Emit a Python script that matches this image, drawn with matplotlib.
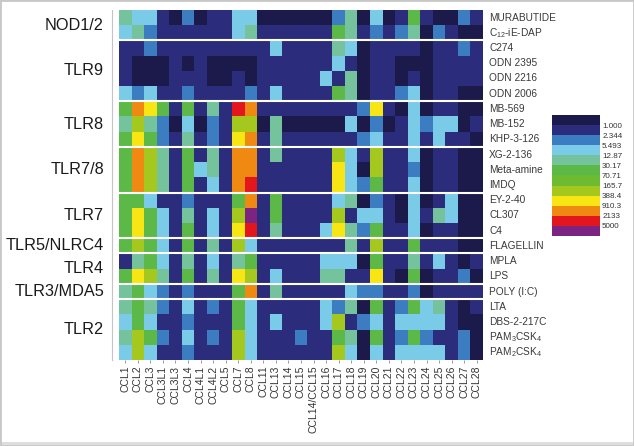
import numpy as np
import matplotlib
matplotlib.use("Agg")
import matplotlib.pyplot as plt
from matplotlib.colors import ListedColormap, BoundaryNorm
from matplotlib.lines import Line2D
from matplotlib.patches import Rectangle
import matplotlib.transforms as mtransforms

plt.rcParams['font.family'] = ['Liberation Sans', 'DejaVu Sans']

# ---------------- data ----------------
columns = ['CCL1', 'CCL2', 'CCL3', 'CCL3L1', 'CCL3L3', 'CCL4', 'CCL4L1', 'CCL4L2',
           'CCL5', 'CCL7', 'CCL8', 'CCL11', 'CCL13', 'CCL14', 'CCL15', 'CCL14/CCL15',
           'CCL16', 'CCL17', 'CCL18', 'CCL19', 'CCL20', 'CCL21', 'CCL22', 'CCL23',
           'CCL24', 'CCL25', 'CCL26', 'CCL27', 'CCL28']

groups = ['NOD1/2', 'TLR9', 'TLR8', 'TLR7/8', 'TLR7', 'TLR5/NLRC4', 'TLR4', 'TLR3/MDA5', 'TLR2']

ligands_nod = ['MURABUTIDE', r'C$_{\mathregular{12}}$-iE-DAP']
ligands_tlr9 = ['C274', 'ODN 2395', 'ODN 2216', 'ODN 2006']
ligands_tlr8 = ['MB-569', 'MB-152', 'KHP-3-126']
ligands_tlr78 = ['XG-2-136', 'Meta-amine', 'IMDQ']
ligands_tlr7 = ['EY-2-40', 'CL307', 'C4']
ligands_tlr5 = ['FLAGELLIN']
ligands_tlr4 = ['MPLA', 'LPS']
ligands_tlr3 = ['POLY (I:C)']
ligands_tlr2 = ['LTA', 'DBS-2-217C', r'PAM$_{\mathregular{3}}$CSK$_{\mathregular{4}}$',
                r'PAM$_{\mathregular{2}}$CSK$_{\mathregular{4}}$']

# fold-change level index per cell (0 = <1.000 ... 11 = >5000), hex digit per chemokine
levels_nod = ["43310201133000000240301510021",
              "34211111134111111541212402100"]
levels_tlr9 = ["11211111111131111430111101121",
               "10001010000111111310110001111",
               "10001110010111113140110101111",
               "32311211112131111540112301100"]
levels_tlr8 = ["598515141a9111111112810301100",
               "47420302177040000030201323301",
               "58521412189141111112311313110"]
levels_tlr78 = ["59741514199141111731711301100",
                "59741534199111111830711201100",
                "5974151319a111111832511301100"]
levels_tlr7 = ["55311211159151111340210301300",
               "5853141317b151111713310314300",
               "5853151318a141113842511301100"]
levels_tlr5 = ["57531514173111111141711511100"]
levels_tlr4 = ["14531413145111113330511413101",
               "58741514187131114411810501120"]
levels_tlr3 = ["45321211159141111132211201111"]
levels_tlr2 = ["45421312153111113240512534101",
               "35311211153131113712313333100",
               "47521312173111211540512521120",
               "37311211173111111730313333120"]

thresholds = ['1.000', '2.344', '5.493', '12.87', '30.17', '70.71', '165.7',
              '388.4', '910.3', '2133', '5000']

colors = ['#1c1a4b', '#2b2d7c', '#3c7cc1', '#79cbe8', '#75c39d', '#5db947',
          '#6cbb30', '#a5c81f', '#f7e614', '#ef8911', '#e3151d', '#7b2482']

# ---------------- assemble ----------------
group_levels = [levels_nod, levels_tlr9, levels_tlr8, levels_tlr78, levels_tlr7,
                levels_tlr5, levels_tlr4, levels_tlr3, levels_tlr2]
group_ligands = [ligands_nod, ligands_tlr9, ligands_tlr8, ligands_tlr78, ligands_tlr7,
                 ligands_tlr5, ligands_tlr4, ligands_tlr3, ligands_tlr2]

rows = [s for g in group_levels for s in g]
M = np.array([[int(c, 16) for c in s] for s in rows])
row_labels = [l for g in group_ligands for l in g]

cmap = ListedColormap(colors)
norm = BoundaryNorm(np.arange(-0.5, len(colors) + 0.5, 1), cmap.N)

W, H = 634, 446
fig = plt.figure(figsize=(W / 100, H / 100), dpi=100)

ax = fig.add_axes([119 / W, 1 - 360 / H, 364 / W, 350 / H])
ax.imshow(M, cmap=cmap, norm=norm, aspect='auto', interpolation='nearest')
for s in ax.spines.values():
    s.set_visible(False)
ax.set_yticks([])
ax.set_xticks(range(len(columns)))
ax.set_xticklabels(columns, rotation=90, fontsize=7.5, color='#333333')
ax.tick_params(axis='x', length=2, width=0.6, pad=2, color='#888888')

# group separators & labels
start = 0
trans_left = mtransforms.blended_transform_factory(fig.transFigure, ax.transData)
for gname, glev in zip(groups, group_levels):
    n = len(glev)
    if start > 0:
        ax.axhline(start - 0.5, color='white', lw=1.5)
    ax.text(104 / W, start + (n - 1) / 2, gname, transform=trans_left,
            ha='right', va='center', fontsize=11.7, color='#1a1a1a')
    start += n

for i, lab in enumerate(row_labels):
    ax.text(489 / W, i, lab, transform=trans_left, ha='left', va='center',
            fontsize=7.3, color='#3a3a3a')

# colour key
cax = fig.add_axes([552 / W, 1 - 236 / H, 48 / W, 121 / H])
cax.imshow(np.arange(len(colors))[:, None], cmap=cmap, norm=norm, aspect='auto',
           interpolation='nearest')
for s in cax.spines.values():
    s.set_visible(False)
cax.set_xticks([])
cax.yaxis.tick_right()
cax.set_yticks(np.arange(len(thresholds)) + 0.5)
cax.set_yticklabels(thresholds, fontsize=5.8, color='#333333')
cax.tick_params(axis='y', length=0, pad=1.5)

# decorations
fig.add_artist(Line2D([112 / W, 112 / W], [1 - 10 / H, 1 - 360 / H],
                      transform=fig.transFigure, color='#c4c4c4', lw=0.8))
fig.add_artist(Rectangle((0, 0), 1, 4 / H, transform=fig.transFigure,
                         facecolor='#dedede', edgecolor='none'))
fig.add_artist(Rectangle((0, 0), 1, 1, transform=fig.transFigure, fill=False,
                         edgecolor='#c8c8c8', lw=2.0))

fig.savefig('out.png', dpi=100)
